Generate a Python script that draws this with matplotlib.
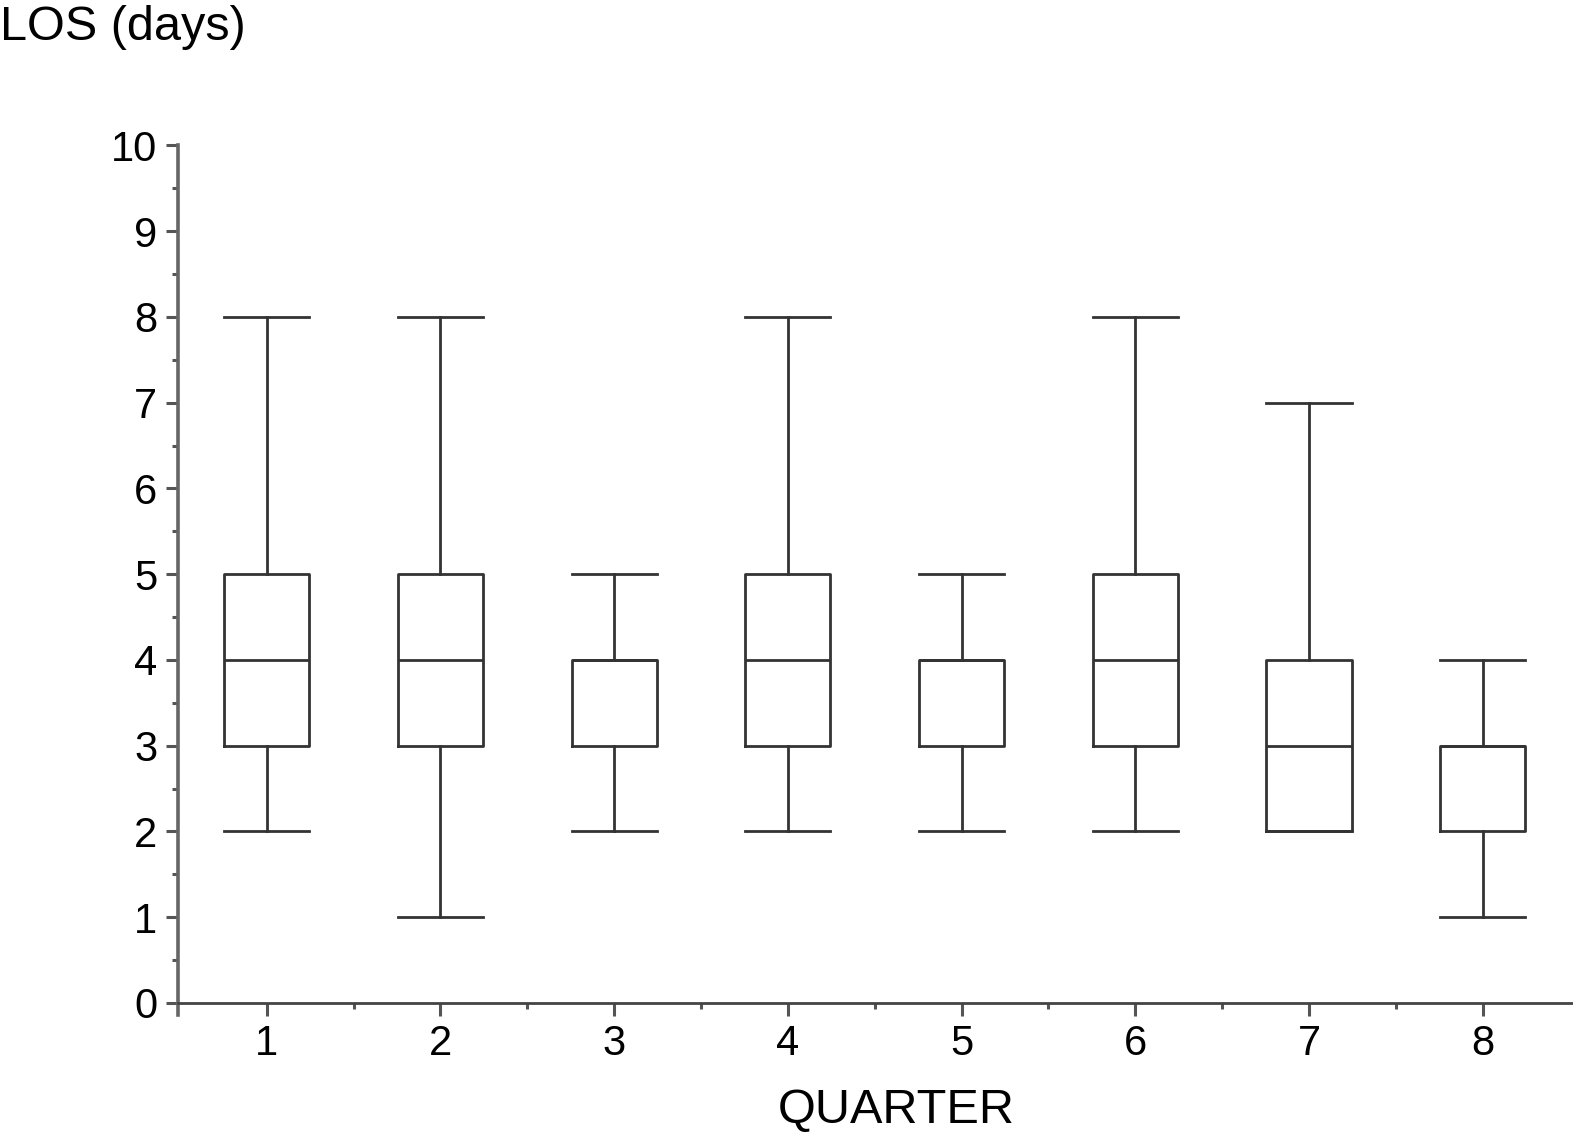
import matplotlib
matplotlib.use("Agg")
import matplotlib.pyplot as plt

plt.rcParams['font.family'] = ['Liberation Sans', 'DejaVu Sans']

quarters = [1, 2, 3, 4, 5, 6, 7, 8]
whisk_lo = [2, 1, 2, 2, 2, 2, 2, 1]
q1 = [3, 3, 3, 3, 3, 3, 2, 2]
median = [4, 4, 4, 4, 4, 4, 3, 3]
q3 = [5, 5, 4, 5, 4, 5, 4, 3]
whisk_hi = [8, 8, 5, 8, 5, 8, 7, 4]

stats = []
for i, q in enumerate(quarters):
    stats.append({'label': str(q), 'whislo': whisk_lo[i], 'q1': q1[i], 'med': median[i],
                  'q3': q3[i], 'whishi': whisk_hi[i], 'fliers': []})

fig = plt.figure(figsize=(15.73, 11.4), dpi=100)
# bottom of axes sits a little below y=0 so the left spine overshoots the x axis
ax = fig.add_axes([0.1132, 0.1097, 0.8868, 0.7627])

line_col = '#333333'
lw = 2.0
ax.bxp(stats, positions=quarters, widths=0.49, showfliers=False,
       boxprops=dict(color=line_col, linewidth=lw),
       whiskerprops=dict(color=line_col, linewidth=lw),
       capprops=dict(color=line_col, linewidth=lw),
       medianprops=dict(color=line_col, linewidth=lw),
       capwidths=0.49)

ax.set_xlim(0.49, 8.52)
ax.set_ylim(-0.14, 10)
ax.set_yticks(range(0, 11))
ax.set_yticks([i + 0.5 for i in range(10)], minor=True)
ax.set_xticks(quarters)
ax.set_xticklabels([str(q) for q in quarters])
ax.set_xticks([q + 0.5 for q in quarters[:-1]], minor=True)

for s in ['top', 'right']:
    ax.spines[s].set_visible(False)
ax.spines['bottom'].set_position(('data', 0))
ax.spines['bottom'].set_color('#444444')
ax.spines['bottom'].set_linewidth(2.0)
ax.spines['left'].set_color('#666666')
ax.spines['left'].set_linewidth(2.6)

ax.tick_params(axis='both', which='major', direction='out', length=9, width=2.2,
               color='#555555', labelsize=30, pad=6)
ax.tick_params(axis='both', which='minor', direction='out', length=4.5, width=2.2,
               color='#555555')

fig.text(0.0, 1 - 28 / 1140, 'LOS (days)', fontsize=35, ha='left', va='center')
fig.text(896 / 1573, 1 - 1110 / 1140, 'QUARTER', fontsize=35, ha='center', va='center')

fig.savefig('out.png', dpi=100)
